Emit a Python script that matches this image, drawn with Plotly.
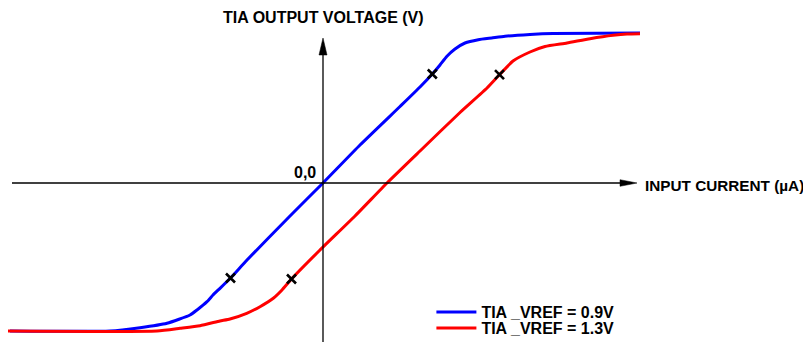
import plotly.graph_objects as go

# Blue curve: TIA_VREF = 0.9V (x: input current, y: output voltage, arbitrary units)
blue_x = [-31.3, -21.3, -18.3, -15.6, -13.3, -12.6, -11.6, -11.0, -10.3, -9.25, -7.6, -3.3, 0.0,
          3.7, 7.7, 9.7, 10.93, 11.7, 12.37, 13.2, 14.2, 15.53, 16.87, 18.2, 20.7, 23.0, 31.7]
blue_y = [-14.8, -14.8, -14.47, -14.03, -13.2, -12.7, -11.87, -11.2, -10.53, -9.5, -7.7, -3.3, 0.0,
          3.8, 7.65, 9.6, 10.9, 11.8, 12.65, 13.4, 14.0, 14.33, 14.5, 14.67, 14.85, 14.95, 15.0]

# Red curve: TIA_VREF = 1.3V
red_x = [-31.5, -16.6, -14.3, -12.3, -10.3, -9.3, -7.63, -6.3, -4.97, -4.1, -3.15, -0.3, 3.2,
         6.4, 9.7, 13.7, 16.4, 17.65, 19.0, 20.7, 22.2, 24.4, 26.7, 29.0, 30.4, 31.7]
red_y = [-14.8, -14.8, -14.53, -14.27, -13.8, -13.6, -13.03, -12.37, -11.53, -10.7, -9.6, -6.7,
         -3.3, 0.0, 3.2, 7.05, 9.5, 10.83, 12.2, 13.1, 13.65, 14.0, 14.43, 14.77, 14.9, 14.93]

# Marked points on each curve
blue_mark_x = [-9.25, 10.93]
blue_mark_y = [-9.5, 10.9]
red_mark_x = [-3.15, 17.65]
red_mark_y = [-9.6, 10.83]

# Axis extents
X_MIN, X_MAX = -31.1, 31.4
Y_MIN, Y_MAX = -15.9, 14.5

FONT = "Liberation Sans, Arial, sans-serif"
FS = 16
W, H = 803, 334

fig = go.Figure()
fig.add_trace(go.Scatter(x=blue_x, y=blue_y, mode="lines", name="<b>TIA _VREF = 0.9V</b>",
                         line=dict(color="#0000FF", width=3, shape="spline", smoothing=0.5),
                         legend="legend"))
fig.add_trace(go.Scatter(x=red_x, y=red_y, mode="lines", name="<b>TIA _VREF = 1.3V</b>",
                         line=dict(color="#FF0000", width=3, shape="spline", smoothing=0.5),
                         legend="legend2"))
fig.add_trace(go.Scatter(x=blue_mark_x + red_mark_x, y=blue_mark_y + red_mark_y, mode="markers",
                         showlegend=False,
                         marker=dict(symbol="x-thin", size=9, color="black",
                                     line=dict(color="black", width=2.6))))

# Axis lines with arrowheads
head_len, head_half = 1.7, 0.33
shapes = [
    dict(type="line", xref="x", yref="y", x0=X_MIN, y0=0, x1=X_MAX - head_len, y1=0,
         line=dict(color="black", width=1.3)),
    dict(type="line", xref="x", yref="y", x0=0, y0=Y_MIN, x1=0, y1=Y_MAX - head_len,
         line=dict(color="black", width=1.3)),
    dict(type="path", xref="x", yref="y",
         path=f"M{X_MAX},0 L{X_MAX - head_len},{head_half} L{X_MAX - head_len},{-head_half} Z",
         fillcolor="black", line=dict(color="black", width=0.5)),
    dict(type="path", xref="x", yref="y",
         path=f"M0,{Y_MAX} L{head_half + 0.07},{Y_MAX - head_len} L{-head_half - 0.07},{Y_MAX - head_len} Z",
         fillcolor="black", line=dict(color="black", width=0.5)),
]

annotations = [
    dict(x=0, y=16.6, xref="x", yref="y", text="<b>TIA OUTPUT VOLTAGE (V)</b>",
         showarrow=False, xanchor="center", yanchor="middle", font=dict(size=FS, color="black")),
    dict(x=X_MAX + 0.6, y=-0.2, xref="x", yref="y", text="<b>INPUT CURRENT (µA)</b>",
         showarrow=False, xanchor="left", yanchor="middle", font=dict(size=15.3, color="black")),
    dict(x=-0.5, y=1.1, xref="x", yref="y", text="<b>0,0</b>",
         showarrow=False, xanchor="right", yanchor="middle", font=dict(size=FS, color="black")),
]

fig.update_layout(
    width=W, height=H,
    margin=dict(l=0, r=0, t=0, b=0, pad=0, autoexpand=False),
    paper_bgcolor="white", plot_bgcolor="white",
    font=dict(family=FONT, size=FS, color="black"),
    xaxis=dict(range=[-31.5, 48.8], visible=False, fixedrange=True),
    yaxis=dict(range=[-15.9, 17.5], visible=False, fixedrange=True),
    shapes=shapes,
    annotations=annotations,
    legend=dict(x=423.4 / W, y=1 - 304 / H, xanchor="left", yanchor="middle",
                bgcolor="rgba(0,0,0,0)", itemwidth=40, font=dict(size=FS)),
    legend2=dict(x=423.4 / W, y=1 - 320 / H, xanchor="left", yanchor="middle",
                 bgcolor="rgba(0,0,0,0)", itemwidth=40, font=dict(size=FS)),
)

fig.write_html("out.html")
